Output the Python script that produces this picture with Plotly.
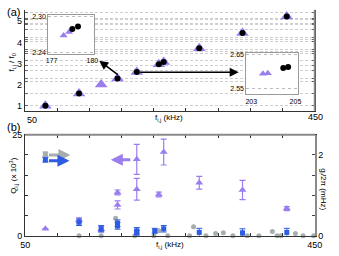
import plotly.graph_objects as go

W, H = 339, 256

# ---------------- data ----------------
# x tick positions (kHz) and labels
x_ticks = [50, 94.4, 138.9, 183.3, 227.8, 272.2, 316.7, 361.1, 405.6, 450]
x_ticktext = ["50", "", "", "", "", "", "", "", "", "450"]

# dashed reference lines (mode ratios) in panel (a)
mode_ratios = [1.000, 1.593, 2.136, 2.295, 2.653, 2.917, 3.156, 3.500, 3.598,
               3.647, 4.059, 4.132, 4.230, 4.601, 4.610, 4.832, 4.903, 5.084,
               5.131, 5.412]
ya_labels = [1, 2, 3, 4, 5]

# panel (a) measured ratios
a_tri_f = [77.9, 124.4, 155.0, 177.6, 204.2, 234.7, 241.4, 290.5, 350.3, 411.5]
a_tri_r = [1.00, 1.59, 2.01, 2.29, 2.60, 2.97, 3.08, 3.73, 4.45, 5.23]
a_dot_f = [77.9, 124.4, 177.6, 204.2, 234.7, 241.4, 290.5, 350.3, 411.5]
a_dot_r = [1.00, 1.59, 2.29, 2.60, 2.97, 3.08, 3.73, 4.45, 5.23]

# inset 1
in1_tri_f = [177.88, 178.28]
in1_tri_r = [2.268, 2.274]
in1_dot_f = [178.52, 178.94]
in1_dot_r = [2.279, 2.283]
in1_xt = [177, 180]
in1_yt = [2.24, 2.30]

# inset 2
in2_tri_f = [203.53, 203.75]
in2_tri_r = [2.594, 2.596]
in2_dot_f = [204.45, 204.67]
in2_dot_r = [2.611, 2.614]
in2_xt = [203, 205]
in2_yt = [2.55, 2.65]

# panel (b) quality factor Q (x 10^3), left axis
q_f = [77.9, 124.4, 155.0, 177.6, 177.6, 204.2, 204.2, 234.7, 241.4, 290.5, 350.3, 411.5]
q_val = [1.7, 3.8, 1.6, 10.7, 7.6, 18.9, 11.5, 10.2, 20.7, 13.1, 11.3, 6.7]
q_err = [0.0, 0.6, 0.6, 0.6, 1.0, 3.7, 2.7, 0.6, 3.2, 1.6, 2.4, 0.5]

# panel (b) blue g (mHz), right axis
g_f = [77.9, 124.4, 155.0, 177.6, 177.6, 204.2, 204.2, 229.0, 241.4, 290.5, 350.3, 411.5]
g_val = [1.88, 0.33, 0.17, 0.31, 0.24, 0.12, 0.07, 0.12, 0.17, 0.08, 0.07, 0.08]
g_err = [0.06, 0.08, 0.08, 0.08, 0.08, 0.08, 0.06, 0.06, 0.08, 0.10, 0.10, 0.10]

# panel (b) gray points (mHz), right axis
gr_f = [124.4, 155.0, 174.9, 201.5, 228.0, 234.7, 247.0, 277.2, 282.6, 299.8,
        313.1, 323.8, 337.0, 350.3, 357.0, 372.9, 391.5, 398.1, 403.5, 423.4,
        434.0, 448.7]
gr_val = [0, 0, 0.43, 0, 0, 0.12, 0, 0, 0.22, 0,
          0.05, 0.07, 0, 0.03, 0, 0, 0.10, 0, 0, 0.05,
          0, 0]
gs_f = [77.9]
gs_val = [2.02]
gs_err = [0.05]

yb_ticks = [0, 5, 10, 15, 20, 25]
yb_ticktext = ["0", "", "", "", "", "25"]
yr_ticks = [0, 0.5, 1, 1.5, 2, 2.5]
yr_ticktext = ["0", "", "", "", "2", ""]

# ---------------- style ----------------
PURPLE = "#9B7EEE"
BLUE = "#2D5CE3"
GRAY = "#A6AEAD"
FONT = "Liberation Sans, Arial, sans-serif"


def px(x):
    return x / W


def py(y):
    return 1 - y / H


fig = go.Figure()

# panel (a)
fig.add_trace(go.Scatter(x=a_tri_f, y=a_tri_r, mode="markers", xaxis="x", yaxis="y",
                         marker=dict(symbol="triangle-up", size=11, color=PURPLE),
                         cliponaxis=False, showlegend=False))
fig.add_trace(go.Scatter(x=a_dot_f, y=a_dot_r, mode="markers", xaxis="x", yaxis="y",
                         marker=dict(symbol="circle", size=6, color="black"),
                         cliponaxis=False, showlegend=False))
# inset 1
fig.add_trace(go.Scatter(x=in1_tri_f, y=in1_tri_r, mode="markers", xaxis="x4", yaxis="y4",
                         marker=dict(symbol="triangle-up", size=7, color=PURPLE),
                         showlegend=False))
fig.add_trace(go.Scatter(x=in1_dot_f, y=in1_dot_r, mode="markers", xaxis="x4", yaxis="y4",
                         marker=dict(symbol="circle", size=6, color="black"),
                         showlegend=False))
# inset 2
fig.add_trace(go.Scatter(x=in2_tri_f, y=in2_tri_r, mode="markers", xaxis="x5", yaxis="y5",
                         marker=dict(symbol="triangle-up", size=7, color=PURPLE),
                         showlegend=False))
fig.add_trace(go.Scatter(x=in2_dot_f, y=in2_dot_r, mode="markers", xaxis="x5", yaxis="y5",
                         marker=dict(symbol="circle", size=6, color="black"),
                         showlegend=False))

# panel (b)
fig.add_trace(go.Scatter(x=q_f, y=q_val, mode="markers", xaxis="x2", yaxis="y2",
                         marker=dict(symbol="triangle-up", size=7, color=PURPLE),
                         error_y=dict(type="data", array=q_err, color=PURPLE,
                                      thickness=1.2, width=3),
                         cliponaxis=False, showlegend=False))
fig.add_trace(go.Scatter(x=gr_f, y=gr_val, mode="markers", xaxis="x2", yaxis="y3",
                         marker=dict(symbol="circle", size=5, color=GRAY),
                         cliponaxis=False, showlegend=False))
fig.add_trace(go.Scatter(x=gs_f, y=gs_val, mode="markers", xaxis="x2", yaxis="y3",
                         marker=dict(symbol="square", size=5, color=GRAY),
                         error_y=dict(type="data", array=gs_err, color=GRAY,
                                      thickness=1, width=3),
                         cliponaxis=False, showlegend=False))
fig.add_trace(go.Scatter(x=g_f, y=g_val, mode="markers", xaxis="x2", yaxis="y3",
                         marker=dict(symbol="square", size=5, color=BLUE),
                         error_y=dict(type="data", array=g_err, color=BLUE,
                                      thickness=1, width=3),
                         cliponaxis=False, showlegend=False))

axis_font = dict(family=FONT, size=9, color="black")
small_font = dict(family=FONT, size=7, color="black")

dom_x = [px(21), px(322)]
layout = dict(
    width=W, height=H,
    margin=dict(l=0, r=0, t=0, b=0),
    paper_bgcolor="white", plot_bgcolor="white",
    font=dict(family=FONT, size=9, color="black"),
    showlegend=False,
    xaxis=dict(domain=dom_x, anchor="y", range=[50, 450], tickvals=x_ticks,
               ticktext=x_ticktext, ticks="inside", ticklen=3, tickcolor="#333",
               showticklabels=False, showline=True, linecolor="#333", linewidth=1.2,
               mirror=False, showgrid=False, zeroline=False),
    yaxis=dict(domain=[py(110), py(5)], anchor="x", range=[0.77, 5.55],
               tickvals=mode_ratios, ticks="inside", ticklen=3, tickcolor="#666",
               showticklabels=False, showline=True, linecolor="#333", linewidth=1.2,
               mirror="ticks", showgrid=True, gridcolor="#cfcfcf", griddash="3px,2px",
               gridwidth=1, zeroline=False),
    xaxis2=dict(domain=dom_x, anchor="y2", range=[50, 450], tickvals=x_ticks,
                ticktext=x_ticktext, ticks="inside", ticklen=3, tickcolor="#333",
                tickfont=axis_font, showline=True, linecolor="#333", linewidth=1.2,
                mirror="ticks", showgrid=False, zeroline=False),
    yaxis2=dict(domain=[py(240), py(135)], anchor="x2", range=[0, 25],
                tickvals=yb_ticks, ticktext=yb_ticktext, ticks="inside", ticklen=3,
                tickcolor="#333", tickfont=axis_font, showline=True, linecolor="#333",
                linewidth=1.2, showgrid=False, zeroline=False),
    yaxis3=dict(overlaying="y2", anchor="x2", side="right", range=[0, 2.5],
                tickvals=yr_ticks, ticktext=yr_ticktext, ticks="inside", ticklen=3,
                tickcolor="#444", tickfont=axis_font, showline=True,
                linecolor="#8a8a8a", linewidth=1.8, showgrid=False, zeroline=False),
    xaxis4=dict(domain=[px(45), px(93)], anchor="y4", range=[176.75, 180.15],
                tickvals=in1_xt, ticks="", tickfont=small_font, showline=True,
                mirror=True, linecolor="#9a9a9a", linewidth=1, showgrid=False,
                zeroline=False),
    yaxis4=dict(domain=[py(51), py(10)], anchor="x4", range=[2.2368, 2.3032],
                tickvals=in1_yt, ticktext=["2.24", "2.30"], ticks="",
                tickfont=small_font, showline=True, mirror=True, linecolor="#9a9a9a",
                linewidth=1, showgrid=True, gridcolor="#bdbdbd", griddash="dot",
                zeroline=False),
    xaxis5=dict(domain=[px(251), px(305)], anchor="y5", range=[202.78, 205.13],
                tickvals=in2_xt, ticks="", tickfont=small_font, showline=True,
                mirror=True, linecolor="#9a9a9a", linewidth=1, showgrid=False,
                zeroline=False),
    yaxis5=dict(domain=[py(93), py(50)], anchor="x5", range=[2.533, 2.6557],
                tickvals=in2_yt, ticktext=["2.55", "2.65"], ticks="",
                tickfont=small_font, showline=True, mirror=True, linecolor="#9a9a9a",
                linewidth=1, showgrid=True, gridcolor="#bdbdbd", griddash="dot",
                zeroline=False),
)
fig.update_layout(**layout)

# gray frame lines (right side of (a), top of (b))
shapes = [
    dict(type="line", xref="paper", yref="paper", x0=px(322), x1=px(322),
         y0=py(110), y1=py(5), line=dict(color="#8a8a8a", width=1.8), layer="above"),
    dict(type="line", xref="paper", yref="paper", x0=px(21), x1=px(322.8),
         y0=py(135), y1=py(135), line=dict(color="#8a8a8a", width=1.8), layer="above"),
]
fig.update_layout(shapes=shapes)

ann = []


def label(x, y, text, size=9, angle=0, xanchor="center", yanchor="middle", xref="paper",
          yref="paper"):
    return dict(x=x, y=y, xref=xref, yref=yref, text=text, showarrow=False,
                textangle=angle, xanchor=xanchor, yanchor=yanchor,
                font=dict(family=FONT, size=size, color="black"))


# y tick labels of panel (a)
for v in ya_labels:
    ann.append(label(px(19.5), v, str(v), xanchor="right", yref="y"))
# x tick labels of panel (a)
ann.append(label(px(28), py(120), "50"))
ann.append(label(px(323), py(117), "450"))
# panel tags
ann.append(label(0, py(-1), "(a)", size=11, xanchor="left", yanchor="top"))
ann.append(label(0, py(118.5), "(b)", size=11, xanchor="left", yanchor="top"))
# axis titles
ann.append(label(px(7), py(60), "f<sub>i,j</sub> / f<sub>0</sub>", size=8, angle=-90))
ann.append(label(px(171), py(118), "f<sub>i,j</sub> (kHz)", size=8))
ann.append(label(px(8), py(178), "Q<sub>i,j</sub> (x 10<sup>3</sup>)", size=8, angle=-90))
ann.append(label(px(172), py(250), "f<sub>i,j</sub> (kHz)", size=8))
ann.append(label(px(331), py(192), "g<sub>i</sub>/2π (mHz)", size=8, angle=90))


def arrow(hx, hy, tx, ty, color, width, size, head=2):
    return dict(x=px(hx), y=py(hy), xref="paper", yref="paper", ax=tx - hx, ay=ty - hy,
                text="", showarrow=True, arrowhead=head, arrowsize=size,
                arrowwidth=width, arrowcolor=color)


ann.append(arrow(98, 58, 118, 73, "black", 1.5, 1.2))
ann.append(arrow(243, 70, 143, 70, "black", 1.5, 1.2))
ann.append(arrow(68, 156, 45, 156, GRAY, 3, 0.8))
ann.append(arrow(67, 162, 45, 162, BLUE, 3, 0.8))
ann.append(arrow(110, 161, 131, 161, PURPLE, 3, 0.8))

fig.update_layout(annotations=ann)

fig.write_html("out.html", config={"displayModeBar": False},
               post_script="document.body.style.margin='0';document.body.style.overflow='hidden';")
